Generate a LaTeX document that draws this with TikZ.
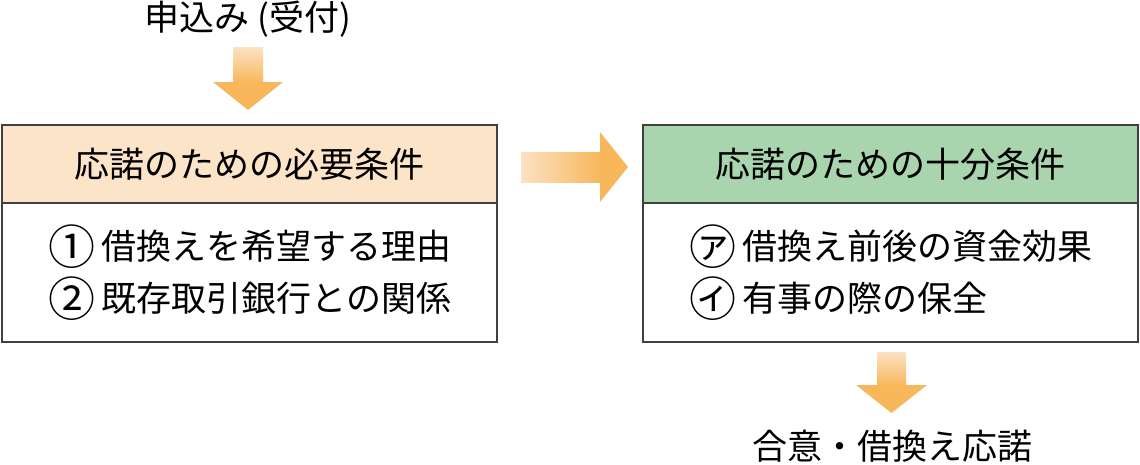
\documentclass[tikz,border=0pt]{standalone}
\usepackage{fontspec}
\setmainfont{Noto Sans CJK JP}
\usepackage{xcolor}
\usepackage{tikz}
\usetikzlibrary{positioning}
\definecolor{needfill}{RGB}{252,228,200}
\definecolor{enoughfill}{RGB}{168,212,174}
\definecolor{arrowlight}{RGB}{252,226,196}
\definecolor{arrowdark}{RGB}{247,183,90}
\definecolor{boxline}{RGB}{64,64,64}
\newcommand{\circmark}[1]{\raisebox{-5pt}{\fontsize{47}{52}\selectfont #1}}
\tikzstyle{label} = [font=\fontsize{35}{42}\selectfont, inner sep=0pt]
\tikzstyle{head} = [rectangle, minimum width=495pt, minimum height=78pt, outer sep=0pt, text centered, draw=boxline, line width=1.5pt, font=\fontsize{35}{42}\selectfont]
\tikzstyle{body} = [rectangle, minimum width=495pt, minimum height=139pt, outer sep=0pt, draw=boxline, line width=1.5pt, fill=white, text width=402pt, align=left, font=\fontsize{35}{52}\selectfont]
\tikzstyle{shaft} = [draw=none]
\tikzstyle{tip} = [fill=arrowdark, draw=none]

\begin{document}
\begin{tikzpicture}[x=1pt, y=-1pt]
      \useasboundingbox (0,0) rectangle (1140,464);
      \node (apply) [label] at (248,19) {申込み (受付)};
      \node (needhead) [head, fill=needfill] at (249.5,164) {応諾のための必要条件};
      \node (needbody) [body, below=0pt of needhead] {\circmark{①}\,借換えを希望する理由\\\circmark{②}\,既存取引銀行との関係};
      \node (enoughhead) [head, fill=enoughfill] at (890.5,164) {応諾のための十分条件};
      \node (enoughbody) [body, below=0pt of enoughhead] {\circmark{㋐}\,借換え前後の資金効果\\\circmark{㋑}\,有事の際の保全};
      \node (agree) [label] at (892,446) {合意・借換え応諾};
      % down arrow to the first box
      \shade [shaft, top color=arrowlight, bottom color=arrowdark] (233,47) rectangle (263,83);
      \fill [tip] (213,82) -- (283,82) -- (248,110) -- cycle;
      % arrow between the boxes
      \shade [shaft, left color=arrowlight, right color=arrowdark] (521,152) rectangle (601,182);
      \fill [tip] (600,132) -- (628,167) -- (600,202) -- cycle;
      % down arrow to the result
      \shade [shaft, top color=arrowlight, bottom color=arrowdark] (877,352) rectangle (906,386);
      \fill [tip] (856,385) -- (927,385) -- (891.5,413) -- cycle;
    \end{tikzpicture}
\end{document}
